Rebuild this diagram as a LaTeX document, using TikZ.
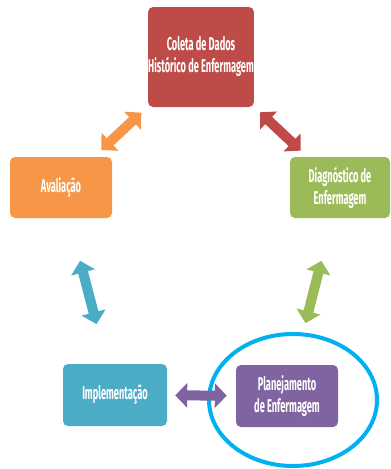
\documentclass[tikz,border=0pt]{standalone}
\usepackage{fontspec}
\setmainfont{Fira Sans}[FakeStretch=0.5]
\usetikzlibrary{arrows.meta,shapes.geometric}
\definecolor{cRed}{HTML}{BE4B48}
\definecolor{cOrange}{HTML}{F79646}
\definecolor{cGreen}{HTML}{9BBB59}
\definecolor{cTeal}{HTML}{4BACC6}
\definecolor{cPurple}{HTML}{8064A2}
\definecolor{cRing}{HTML}{00B0F0}
\begin{document}
\begin{tikzpicture}[x=1pt,y=-1pt,
  stage/.style={rectangle, rounded corners=5pt, minimum width=102pt,
    minimum height=62pt, text=white, align=center, inner sep=0pt,
    font=\fontsize{18.5}{22}\selectfont\bfseries},
  link/.style={line width=10pt,
    {Triangle[length=12pt,width=24pt]}-{Triangle[length=12pt,width=24pt]}},
]
\useasboundingbox (0,0) rectangle (391,469);

% process stages
\node[stage, fill=cRed, minimum height=100pt] (coleta) at (201,57)
  {Coleta de Dados\\Histórico de Enfermagem};
\node[stage, fill=cOrange, minimum height=61pt] (aval) at (61,187.5) {Avaliação};
\node[stage, fill=cGreen, minimum width=100pt, minimum height=61pt] (diag) at (340,187.5)
  {Diagnóstico de\\Enfermagem};
\node[stage, fill=cTeal, minimum width=104pt] (impl) at (115,395) {Implementação};
\node[stage, fill=cPurple] (plan) at (287,396) {Planejamento\\de Enfermagem};

% highlight ring
\node[draw=cRing, line width=4pt, ellipse, minimum width=168pt, minimum height=132pt]
  (ring) at (293,400) {};

% two-way links
\draw[link, cOrange, shorten <=10pt, shorten >=9pt] (aval) -- (coleta);
\draw[link, cRed, shorten <=8pt, shorten >=9pt] (coleta) -- (diag);
\draw[link, cGreen, shorten <=44pt, shorten >=43pt] (diag) -- (plan);
\draw[link, cPurple, shorten <=8pt, shorten >=9pt] (impl) -- (plan);
\draw[link, cTeal, shorten <=44pt, shorten >=41pt] (aval) -- (impl);
\end{tikzpicture}
\end{document}
